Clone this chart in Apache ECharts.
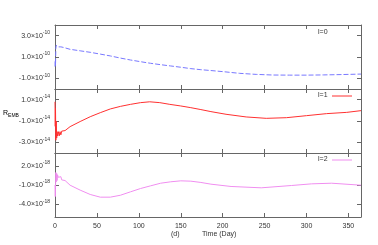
<!DOCTYPE html>
<html><head><meta charset="utf-8">
<script src="https://cdn.jsdelivr.net/npm/echarts@6/dist/echarts.min.js"></script>
<style>html,body{margin:0;padding:0;background:#fff}#c{width:378px;height:245px}</style>
</head><body><div id="c"></div>
<script>
// Values in units of 10^exp (exp per panel)
const exps = [-10, -14, -18];
const xTicks = [0, 50, 100, 150, 200, 250, 300, 350];
const yTicks0 = [-1, 1, 3];
const yTicks1 = [-3, -1, 1];
const yTicks2 = [-4, -1, 2];
const labels = ['l=0', 'l=1', 'l=2'];

const t0 = [0, 0.3, 0.6, 1, 1.5, 2, 3, 4, 5, 7, 10, 18, 30, 42, 54, 66, 78, 90, 102, 114, 126, 138, 150, 162, 174, 186, 200, 220, 240, 260, 280, 300, 320, 340, 365];
const v0 = [0.1, 0.7, 0.2, 1.8, 2.1, 2.0, 2.15, 1.95, 2.05, 1.95, 1.9, 1.72, 1.58, 1.44, 1.27, 1.1, 0.9, 0.72, 0.56, 0.41, 0.28, 0.16, 0.04, -0.09, -0.19, -0.27, -0.37, -0.53, -0.63, -0.69, -0.7, -0.7, -0.68, -0.65, -0.6];

const t1 = [0, 0.3, 0.6, 1, 1.5, 2, 2.5, 3, 4, 5, 6, 7, 8, 10, 12, 18, 30, 42, 54, 66, 78, 90, 102, 113, 125, 137, 150, 162, 174, 186, 204, 228, 252, 276, 300, 324, 348, 365];
const v1 = [0.8, -1.5, 0.2, -2.8, -1.0, -2.6, -2.0, -2.4, -2.0, -2.4, -2.0, -2.3, -1.95, -2.1, -1.9, -1.53, -1.05, -0.6, -0.22, 0.13, 0.37, 0.56, 0.72, 0.8, 0.72, 0.56, 0.41, 0.25, 0.07, -0.12, -0.37, -0.62, -0.75, -0.69, -0.5, -0.31, -0.19, -0.03];

const t2 = [0, 0.3, 0.6, 1, 1.5, 2, 2.5, 3, 4, 5, 6, 7, 8, 10, 12, 18, 30, 42, 54, 66, 78, 90, 102, 114, 126, 138, 150, 162, 174, 186, 210, 246, 282, 306, 330, 365];
const v2 = [-1.0, -2.8, -1.5, 0.95, -0.5, 0.8, -0.3, 0.6, 0.2, 0.5, -0.1, 0.3, -0.2, 0.0, -0.3, -1.03, -1.8, -2.48, -2.9, -2.9, -2.6, -2.07, -1.55, -1.13, -0.72, -0.5, -0.35, -0.4, -0.6, -0.87, -1.23, -1.44, -1.08, -0.82, -0.72, -1.03];

const ranges = [[-2, 4], [-4, 2], [-6, 4]];
const yTicks = [yTicks0, yTicks1, yTicks2];
const ts = [t0, t1, t2], vs = [v0, v1, v2];
const colors = ['#7878ff', '#ff3030', '#f08ef0'];
const tops = [25, 89, 153];

const axisCol = '#666';
const font = 'Liberation Sans';
const chart = echarts.init(document.getElementById('c'));

const grid = [], xAxis = [], yAxis = [], series = [];
for (let i = 0; i < 3; i++) {
  grid.push({left: 55, right: 17, top: tops[i], height: 64});
  const baseX = {type: 'value', gridIndex: i, min: 0, max: 365,
    axisLine: {show: true, onZero: false, lineStyle: {color: axisCol}},
    axisTick: {show: true, inside: true, length: 4, customValues: xTicks, lineStyle: {color: axisCol}},
    splitLine: {show: false}};
  xAxis.push(Object.assign({}, baseX, {position: 'bottom',
    axisLabel: {show: i === 2, customValues: xTicks, fontSize: 7, fontFamily: font, color: '#333', margin: 6}}));
  xAxis.push(Object.assign({}, baseX, {position: 'top', axisLabel: {show: false}}));
  const exp = exps[i];
  const baseY = {type: 'value', gridIndex: i, min: ranges[i][0], max: ranges[i][1],
    axisLine: {show: true, onZero: false, lineStyle: {color: axisCol}},
    axisTick: {show: true, inside: true, length: 4, customValues: yTicks[i], lineStyle: {color: axisCol}},
    splitLine: {show: false}};
  yAxis.push(Object.assign({}, baseY, {position: 'left',
    axisLabel: {show: true, customValues: yTicks[i], margin: 5,
      formatter: v => '{m|' + v.toFixed(1) + '×10}{e|' + exp + '}',
      rich: {m: {fontSize: 7, fontFamily: font, color: '#333'},
             e: {fontSize: 5, fontFamily: font, color: '#333', padding: [0, 0, 6, 0]}}}}));
  yAxis.push(Object.assign({}, baseY, {position: 'right', axisLabel: {show: false}}));
  const data = ts[i].map((t, k) => [t, vs[i][k]]);
  series.push({type: 'line', xAxisIndex: 2 * i, yAxisIndex: 2 * i, data: data,
    showSymbol: false, symbol: 'none', smooth: false, animation: false,
    lineStyle: {color: colors[i], width: 1, type: i === 0 ? [5, 2] : 'solid'}});
}

const graphic = [
  {type: 'text', left: 318, top: 29, style: {text: labels[0], font: '7px ' + font, fill: '#333'}},
  {type: 'text', left: 318, top: 92, style: {text: labels[1], font: '7px ' + font, fill: '#333'}},
  {type: 'line', shape: {x1: 332, y1: 96, x2: 352, y2: 96}, style: {stroke: colors[1], lineWidth: 1}},
  {type: 'text', left: 318, top: 156, style: {text: labels[2], font: '7px ' + font, fill: '#333'}},
  {type: 'line', shape: {x1: 332, y1: 160, x2: 352, y2: 160}, style: {stroke: colors[2], lineWidth: 1}},
  {type: 'text', left: 3, top: 110, style: {text: '{r|R}{s|EMB}', rich: {r: {fontSize: 7, fontFamily: font, color: '#333'}, s: {fontSize: 5, fontFamily: font, color: '#333', padding: [4, 0, 0, 0]}}}},
  {type: 'text', left: 171, top: 231, style: {text: '(d)', font: '7px ' + font, fill: '#333'}},
  {type: 'text', left: 202, top: 231, style: {text: 'Time (Day)', font: '7px ' + font, fill: '#333'}}
];

chart.setOption({animation: false, grid, xAxis, yAxis, series, graphic});
</script></body></html>
